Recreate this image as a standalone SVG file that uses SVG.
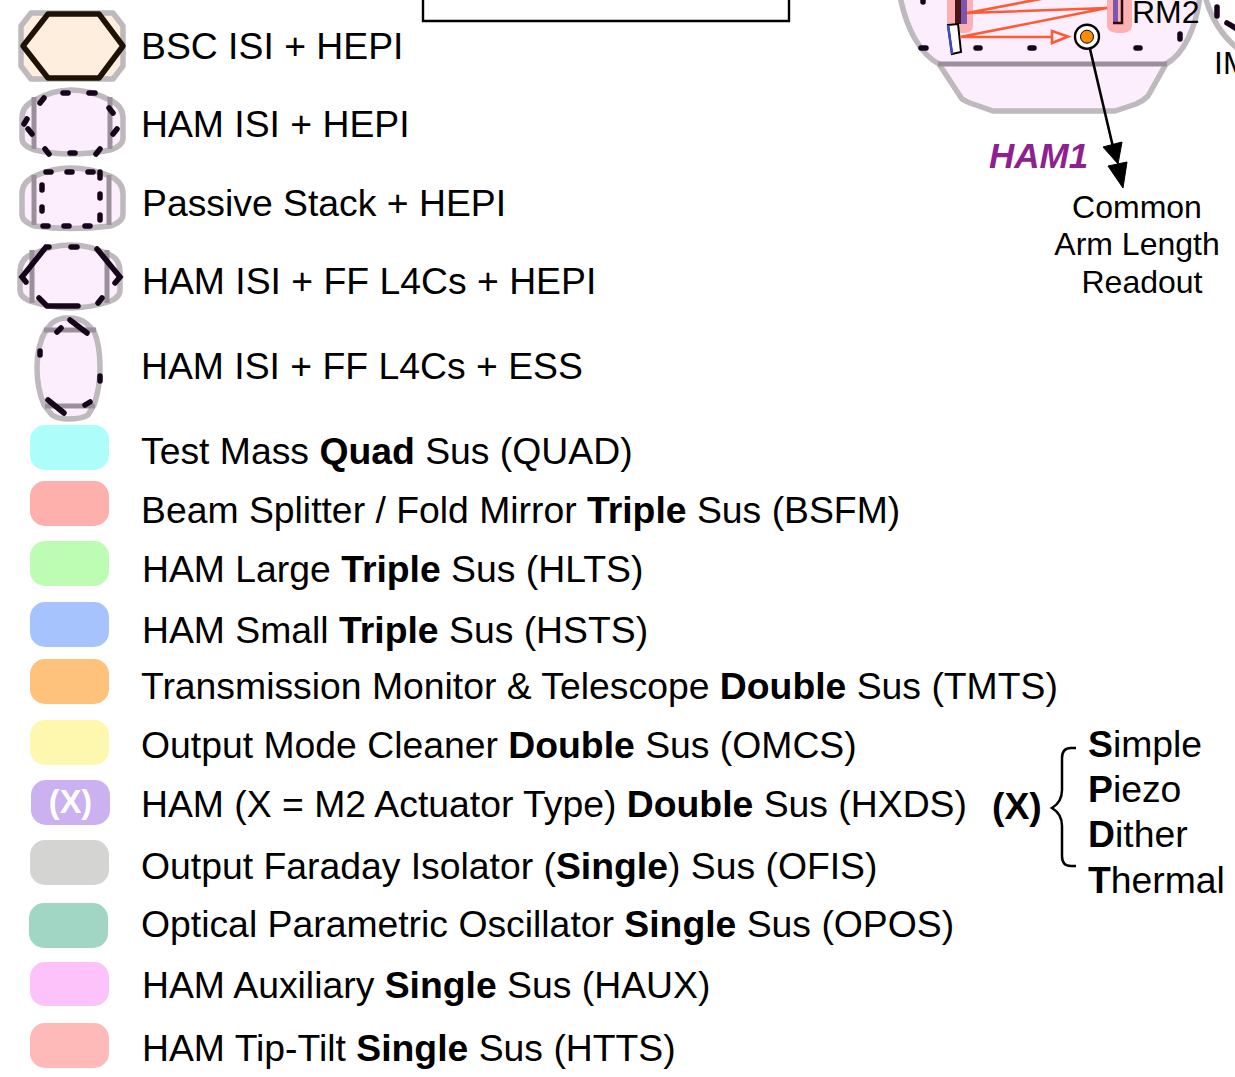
<svg xmlns="http://www.w3.org/2000/svg" width="1235" height="1077" viewBox="0 0 1235 1077">
<style>
text{font-family:"Liberation Sans",Arial,sans-serif;fill:#000}
.l{font-size:37.34px}
.s{font-size:32px}
.x{font-size:37.34px}
.b{font-weight:bold}
.cham{fill:#fdeefe;stroke:#bdb9bd;stroke-width:5.5;stroke-linejoin:round}
.div{fill:none;stroke:#9a8f9b;stroke-width:5}
.dash{fill:none;stroke:#16041a;stroke-width:5.500;stroke-linecap:round;stroke-linejoin:miter}
.sus{stroke:none}
.beam{fill:none;stroke:#ff5a33;stroke-width:2.6}
</style>
<rect width="1235" height="1077" fill="#fff"/>

<g id="box"><path d="M423,-2V21H789V-2" fill="#fff" stroke="#000" stroke-width="2.4"/></g>

<g id="ham1">
<path class="cham" d="M900,-4C906,28 920,54 939,64L962,99Q965,101 970,103L993,111H1115L1136,104Q1143,101 1148,96L1166,64C1184,54 1196,28 1200,-4Z"/>
<path class="div" d="M938,64H1167"/>
<path class="sus" d="M947,-4H973V25Q973,33 965,33H955Q947,33 947,25Z" fill="#fbb0b4"/>
<path class="sus" d="M1107,-4H1132V25Q1132,33 1120,33Q1107,33 1107,25Z" fill="#fbb0b4"/>
<rect x="955" y="-4" width="6" height="28" fill="#4a1517"/>
<rect x="961" y="-4" width="6" height="28" fill="#7c55ae"/>
<rect x="1113" y="-4" width="5" height="28" fill="#7c55ae"/>
<path d="M1122,-4V23H1113" fill="none" stroke="#2a0a0c" stroke-width="2.500"/>
<path d="M948,25L958,24L961,52L952,54Z" fill="#fff" stroke="#000" stroke-width="2"/>
<path d="M948,25L952,54" stroke="#3c4cc8" stroke-width="2.500" fill="none"/>
<path class="dash" d="M921,48H926M976,48H980M1030,48H1034M1136,48H1140M1180,34V39M923,1V2"/>
<path class="beam" d="M967,13L1046,-2M967,13L1107,8L960,37H1052"/>
<path d="M1052,31L1068,36.500L1052,43Z" fill="#fdeefe" stroke="#ff5a33" stroke-width="2.600"/>
<circle cx="1087" cy="36.700" r="12" fill="#fff" stroke="#000" stroke-width="2.400"/>
<circle cx="1087" cy="36.700" r="6.500" fill="#ff8c00" stroke="#000" stroke-width="1"/>
<text x="1132" y="23" class="s">RM2</text>
</g>
<g id="neighbour">
<path d="M1205,-4C1210,15 1220,34 1237,48" fill="#fdeefe" stroke="#bdb9bd" stroke-width="5.500"/>
<path class="dash" d="M1217,7V16M1227,23L1237,29"/>
<text x="1214" y="74" class="s">IM</text>
</g>

<g id="connectors">
<path d="M1090,49L1113,147" fill="none" stroke="#000" stroke-width="2.600"/>
<path d="M1103,147L1122,142L1118,164ZM1108,166L1127,162L1123,188Z" fill="#000" stroke="#000" stroke-width="1"/>
</g>
<text x="989" y="168" style="font-size:35px;font-style:italic;font-weight:bold;fill:#8e2191">HAM1</text>
<g id="readout" style="font-size:32px">
<text x="1137" y="218" text-anchor="middle">Common</text>
<text x="1137" y="255" text-anchor="middle">Arm Length</text>
<text x="1142" y="293" text-anchor="middle">Readout</text>
</g>

<g id="leg-bsc">
<path d="M31,13H113L123,26V66L113,79H31L21,66V26Z" fill="#fdeedd" stroke="#bdb9bd" stroke-width="5.500" stroke-linejoin="round"/>
<path d="M48,14H99L123,46L99,78H48L23,46Z" fill="none" stroke="#1e1205" stroke-width="5.500" stroke-linejoin="round"/>
<text x="141" y="59" class="l">BSC ISI + HEPI</text>
</g>
<g id="leg-ham">
<path class="cham" d="M35,100Q70,80 110,100Q123,106 123,118V138Q123,146 110,150Q70,158 35,150Q22,146 22,138V118Q22,106 35,100Z"/>
<path class="div" d="M34,97V149M110,97V149"/>
<path class="dash" d="M63,93H68M89,93H95M40,103L44,98M109,108L113,113M24,124L27,119M28,129L32,134M113,134L117,129M45,149L49,154M70,153H75M96,154L100,149"/>
<text x="141" y="137" class="l">HAM ISI + HEPI</text>
</g>
<g id="leg-passive">
<path class="cham" d="M35,176Q70,160 110,176Q123,182 123,194V214Q123,222 110,226Q70,231 35,226Q22,222 22,214V194Q22,182 35,176Z"/>
<path class="div" d="M34,175V225M109,175V225"/>
<path class="dash" d="M46,172H51M67,172H72M88,172H93M100,172V178M42,185V190M100,194V198M42,207V211M100,215V220M43,226H48M64,226H69M85,226H90"/>
<text x="142" y="216" class="l">Passive Stack + HEPI</text>
</g>
<g id="leg-ff">
<path class="cham" d="M33,254Q70,236 108,254Q120,258 120,272V290Q120,298 108,302Q70,314 33,302Q20,298 20,290V272Q20,258 33,254Z"/>
<path class="div" d="M32,250V303M107,250V303"/>
<path class="dash" d="M49,247H46L22,277L26,282M71,247H77M97,249L120,277L115,283M39,298L47,306H78M98,303L102,298"/>
<text x="142" y="294" class="l">HAM ISI + FF L4Cs + HEPI</text>
</g>
<g id="leg-ess">
<path class="cham" d="M46,330L52,323Q58,318 68,318Q80,318 86,323L94,331Q100,345 100,368Q100,388 94,405L88,415Q82,419 68,419Q58,419 52,415L44,405Q37,388 37,368Q37,345 46,330Z"/>
<path class="div" d="M44,330H96M45,406H95"/>
<path class="dash" d="M57,332L61,328M70,320L87,333M40,351V355M100,376V381M48,400L64,413M85,405L90,402"/>
<text x="141" y="379" class="l">HAM ISI + FF L4Cs + ESS</text>
</g>

<g id="leg-quad"><rect x="30" y="425" width="79" height="45" rx="15" fill="#adfdfb"/><text x="141" y="464" class="l">Test Mass <tspan class="b">Quad</tspan> Sus (QUAD)</text></g>
<g id="leg-bsfm"><rect x="30" y="481" width="79" height="45" rx="15" fill="#feb0ac"/><text x="141" y="523" class="l">Beam Splitter / Fold Mirror <tspan class="b">Triple</tspan> Sus (BSFM)</text></g>
<g id="leg-hlts"><rect x="30" y="541" width="79" height="45" rx="15" fill="#bcfdb3"/><text x="142" y="582" class="l">HAM Large <tspan class="b">Triple</tspan> Sus (HLTS)</text></g>
<g id="leg-hsts"><rect x="30" y="602" width="79" height="45" rx="15" fill="#a7c3fe"/><text x="142" y="643" class="l">HAM Small <tspan class="b">Triple</tspan> Sus (HSTS)</text></g>
<g id="leg-tmts"><rect x="30" y="659" width="79" height="45" rx="15" fill="#fec27d"/><text x="141" y="699" class="l">Transmission Monitor &amp; Telescope <tspan class="b">Double</tspan> Sus (TMTS)</text></g>
<g id="leg-omcs"><rect x="30" y="720" width="79" height="45" rx="15" fill="#fdf8ae"/><text x="141" y="758" class="l">Output Mode Cleaner <tspan class="b">Double</tspan> Sus (OMCS)</text></g>
<g id="leg-hxds"><rect x="31" y="780" width="79" height="45" rx="15" fill="#cbb1f0"/><text x="70.500" y="813" text-anchor="middle" class="b" style="font-size:32.5px;fill:#fff">(X)</text><text x="141" y="817" class="l">HAM (X = M2 Actuator Type) <tspan class="b">Double</tspan> Sus (HXDS)</text></g>
<g id="leg-ofis"><rect x="30" y="840" width="79" height="45" rx="15" fill="#d4d5d3"/><text x="141" y="879" class="l">Output Faraday Isolator (<tspan class="b">Single</tspan>) Sus (OFIS)</text></g>
<g id="leg-opos"><rect x="29" y="903" width="79" height="45" rx="15" fill="#a0d6c3"/><text x="141" y="937" class="l">Optical Parametric Oscillator <tspan class="b">Single</tspan> Sus (OPOS)</text></g>
<g id="leg-haux"><rect x="30" y="962" width="79" height="44" rx="15" fill="#fdc2fa"/><text x="142" y="998" class="l">HAM Auxiliary <tspan class="b">Single</tspan> Sus (HAUX)</text></g>
<g id="leg-htts"><rect x="30" y="1023" width="79" height="45" rx="15" fill="#feb9b9"/><text x="142" y="1061" class="l">HAM Tip-Tilt <tspan class="b">Single</tspan> Sus (HTTS)</text></g>

<g id="types">
<text x="992" y="819" class="b x">(X)</text>
<path d="M1076,748H1071Q1062,748 1062,758V790Q1062,802 1052,808Q1062,814 1062,826V856Q1062,866 1071,866H1076" fill="none" stroke="#000" stroke-width="2.500"/>
<text x="1088" y="757" class="x"><tspan class="b">S</tspan>imple</text>
<text x="1088" y="802" class="x"><tspan class="b">P</tspan>iezo</text>
<text x="1088" y="847" class="x"><tspan class="b">D</tspan>ither</text>
<text x="1088" y="893" class="x"><tspan class="b">T</tspan>hermal</text>
</g>
</svg>
